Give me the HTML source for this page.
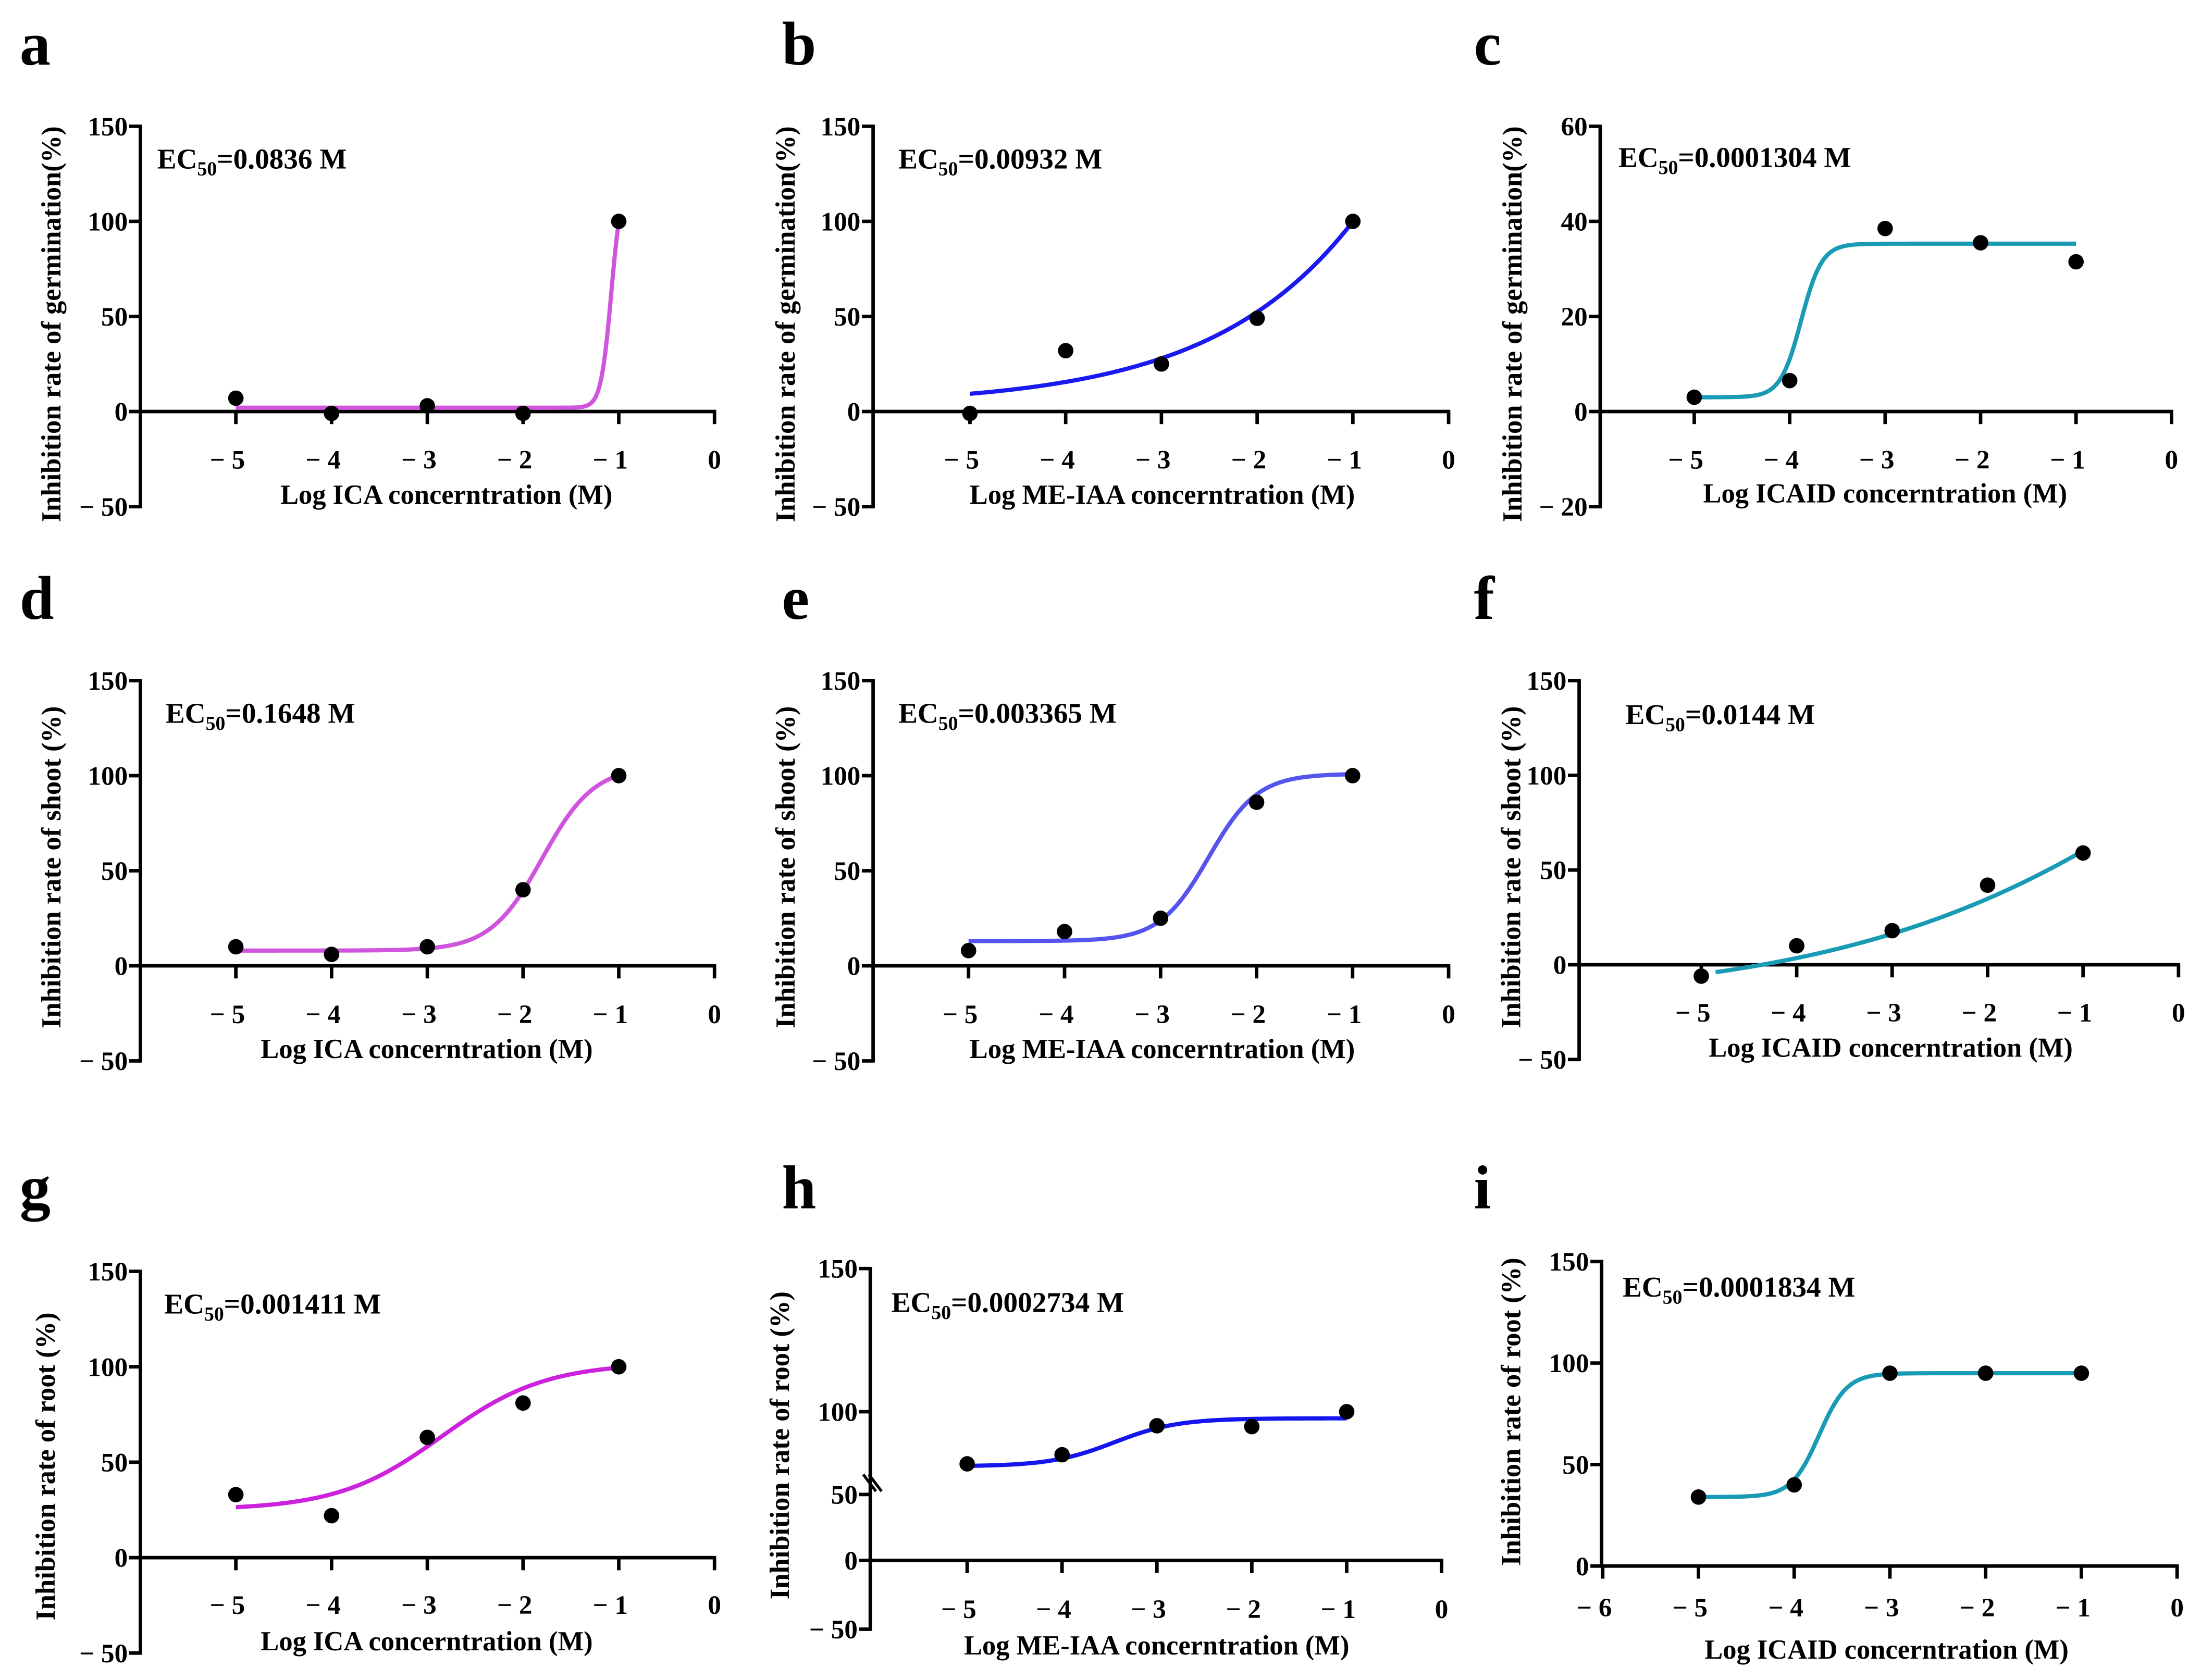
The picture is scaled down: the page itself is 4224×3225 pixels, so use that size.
<!DOCTYPE html>
<html><head><meta charset="utf-8">
<style>
html,body{margin:0;padding:0;background:#fff;}
svg{display:block;}
text{font-family:"Liberation Serif","Times New Roman",serif;font-weight:bold;fill:#000;}
</style></head>
<body>
<svg id="fig" width="4224" height="3225" viewBox="0 0 1568 1197.2" xmlns="http://www.w3.org/2000/svg"></svg>
<script>
// ===== data =====
const xCats = [-5, -4, -3, -2, -1];
const valsA = [7, -1, 3, -1, 100];
const valsB = [-1, 32, 25, 49, 100];
const valsC = [3, 6.5, 38.5, 35.5, 31.5];
const valsD = [10, 6, 10, 40, 100];
const valsE = [8, 18, 25, 86, 100];
const valsF = [-6, 10, 18, 42, 59];
const valsG = [33, 22, 63, 81, 100];
const valsH = [68.5, 74, 91.5, 91, 100];
const valsI = [34, 40, 95, 95, 95];
// 4PL fit params: [bottom, top, logEC50, hill]
const fitA = [2, 123, -1.078, 8];
const fitB = [3, 3000, 3.92, 0.3];
const fitC = [3, 35.3, -3.88, 4];
const fitD = [8, 105, -1.8, 1.6];
const fitE = [13, 101, -2.5, 1.7];
const fitF = [-20, 300, 1.29, 0.208];
const fitG = [25, 102, -2.85, 0.8];
const fitH = [67, 96, -3.45, 1.3];
const fitI = [34, 95, -3.74, 3];
const ticksStd = [150, 100, 50, 0, -50];
const ticksC = [60, 40, 20, 0, -20];
const ticksI = [150, 100, 50, 0];

const NS = "http://www.w3.org/2000/svg";
const svg = document.getElementById('fig');
function mk(tag, attrs, parent){const e=document.createElementNS(NS,tag);for(const k in attrs)e.setAttribute(k,attrs[k]);(parent||svg).appendChild(e);return e;}
function fmt(v){return v<0?"\u2212 "+Math.abs(v):""+v;}

const panels = [
 {id:'a',L:[14,46],ax:100,x5:168,x0:509,ymap:[[150,90],[-50,361]],ticks:ticksStd,vals:valsA,fit:fitA,col:'#cf55dc',ec:'0.0836',ecp:[112,120],xt:'Log ICA concerntration (M)',xtp:[318,359],yt:'Inhibition rate of germination(%)',ytp:[43,231],xmin:-5,xlab:327},
 {id:'b',L:[557,46],ax:622,x5:691,x0:1032,ymap:[[150,90],[-50,361]],ticks:ticksStd,vals:valsB,fit:fitB,col:'#1a1aee',ec:'0.00932',ecp:[640,120],xt:'Log ME-IAA concerntration (M)',xtp:[828,359],yt:'Inhibition rate of germination(%)',ytp:[566,231],xmin:-5,xlab:327},
 {id:'c',L:[1050,46],ax:1140,x5:1207,x0:1547,ymap:[[60,90],[-20,361]],ticks:ticksC,vals:valsC,fit:fitC,col:'#1a9bb5',ec:'0.0001304',ecp:[1153,119],xt:'Log ICAID concerntration (M)',xtp:[1343,358],yt:'Inhibition rate of germination(%)',ytp:[1084,231],xmin:-5,xlab:327},
 {id:'d',L:[14,441],ax:100,x5:168,x0:509,ymap:[[150,485],[-50,756]],ticks:ticksStd,vals:valsD,fit:fitD,col:'#cf55dc',ec:'0.1648',ecp:[118,515],xt:'Log ICA concerntration (M)',xtp:[304,754],yt:'Inhibition rate of shoot (%)',ytp:[43,618],xmin:-5,xlab:722},
 {id:'e',L:[557,441],ax:622,x5:690,x0:1032,ymap:[[150,485],[-50,756]],ticks:ticksStd,vals:valsE,fit:fitE,col:'#5555ee',ec:'0.003365',ecp:[640,515],xt:'Log ME-IAA concerntration (M)',xtp:[828,754],yt:'Inhibition rate of shoot (%)',ytp:[566,618],xmin:-5,xlab:722},
 {id:'f',L:[1050,441],ax:1125,x5:1212,x0:1552,ymap:[[150,485],[-50,755]],ticks:ticksStd,vals:valsF,fit:fitF,col:'#1a9bb5',ec:'0.0144',ecp:[1158,516],xt:'Log ICAID concerntration (M)',xtp:[1347,753],yt:'Inhibition rate of shoot (%)',ytp:[1083,618],xmin:-5,xlab:721,fx0:-4.85},
 {id:'g',L:[14,861],ax:100,x5:168,x0:509,ymap:[[150,906],[-50,1178]],ticks:ticksStd,vals:valsG,fit:fitG,col:'#cc22dd',ec:'0.001411',ecp:[117,936],xt:'Log ICA concerntration (M)',xtp:[304,1176],yt:'Inhibition rate of root (%)',ytp:[39,1045],xmin:-5,xlab:1143},
 {id:'h',L:[557,861],ax:620,x5:689,x0:1027,ymap:[[150,904],[100,1006],[50,1065],[0,1112],[-50,1161]],ticks:ticksStd,vals:valsH,fit:fitH,col:'#1515ee',ec:'0.0002734',ecp:[635,935],xt:'Log ME-IAA concerntration (M)',xtp:[824,1179],yt:'Inhibition rate of root (%)',ytp:[562,1030],xmin:-5,xlab:1146,brk:true},
 {id:'i',L:[1050,861],ax:1141,x5:1210,x0:1551,ymap:[[150,899],[0,1116]],ticks:ticksI,vals:valsI,fit:fitI,col:'#1a9bb5',ec:'0.0001834',ecp:[1156,924],xt:'Log ICAID concerntration (M)',xtp:[1344,1182],yt:'Inhibition rate of root (%)',ytp:[1083,1006],xmin:-6,xlab:1145}
];

function makeY(m){return function(v){
  for(let i=0;i<m.length-1;i++){const [a,pa]=m[i],[b,pb]=m[i+1];
    if((v<=a&&v>=b)||i===m.length-2||(i===0&&v>a)){return pa+(a-v)/(a-b)*(pb-pa);}}
};}
function fourPL(p,x){return p[0]+(p[1]-p[0])/(1+Math.pow(10,(p[2]-x)*p[3]));}

panels.forEach(P=>{
  const g=mk('g',{});
  
  
  const X=v=>P.x5+(v+5)*(P.x0-P.x5)/5;
  const Y=makeY(P.ymap);
  const y0=Y(0);
  const yTop=Y(P.ticks[0]), yBot=Y(P.ticks[P.ticks.length-1]);
  const lt=mk('text',{x:P.L[0],y:P.L[1],'font-size':44},g); lt.textContent=P.id;
  
  
  const ya=mk('line',{x1:P.ax,y1:yTop-1.2,x2:P.ax,y2:yBot+1.2,stroke:'#000','stroke-width':2.5},g);
  
  
  P.ticks.forEach(t=>{
    const yy=Y(t);
    const tk=mk('line',{x1:P.ax-8,y1:yy,x2:P.ax,y2:yy,stroke:'#000','stroke-width':2.5},g);
    
    
    const tl=mk('text',{x:P.ax-9,y:yy+6.5,'font-size':19,'text-anchor':'end'},g);
    tl.textContent=fmt(t);
    
    
  });
  if(P.brk){
    const yb=Y(57);
    [0,4].forEach(o=>{const bl=mk('line',{x1:P.ax-5+o,y1:yb-6,x2:P.ax+4+o,y2:yb+6,stroke:'#000','stroke-width':2},g);
      
      });
  }
  const xa=mk('line',{x1:P.ax,y1:y0,x2:X(0)+1.2,y2:y0,stroke:'#000','stroke-width':2.5},g);
  
  
  for(let v=P.xmin;v<=0;v++){
    const xx=X(v);
    const tk=mk('line',{x1:xx,y1:y0,x2:xx,y2:y0+9,stroke:'#000','stroke-width':2.5},g);
    
    
    const tl=mk('text',{x:xx-(v<0?6:0),y:P.xlab+7,'font-size':19,'text-anchor':'middle'},g);
    tl.textContent=fmt(v);
    
    
  }
  const xt=mk('text',{x:P.xtp[0],y:P.xtp[1],'font-size':19.5,'text-anchor':'middle'},g);
  xt.textContent=P.xt;
  
  
  const yt=mk('text',{x:0,y:0,'font-size':19.5,'text-anchor':'middle',transform:`translate(${P.ytp[0]},${P.ytp[1]}) rotate(-90)`},g);
  yt.textContent=P.yt;
  
  
  const ec=mk('text',{x:P.ecp[0],y:P.ecp[1],'font-size':20.5},g);
  ec.innerHTML='EC<tspan font-size="14" dy="5">50</tspan><tspan dy="-5">='+P.ec+' M</tspan>';
  
  
  let d='';const xs=P.fx0||-5;
  for(let i=0;i<=200;i++){const xv=xs+(-1-xs)*i/200;d+=(i?'L':'M')+X(xv).toFixed(2)+','+Y(fourPL(P.fit,xv)).toFixed(2);}
  const c=mk('path',{d:d,fill:'none',stroke:P.col,'stroke-width':3},g);
  
  
  xCats.forEach((xv,i)=>{
    const pt=mk('circle',{cx:X(xv),cy:Y(P.vals[i]),r:5.5,fill:'#000'},g);
    
    
  });
});
</script>
</body></html>
